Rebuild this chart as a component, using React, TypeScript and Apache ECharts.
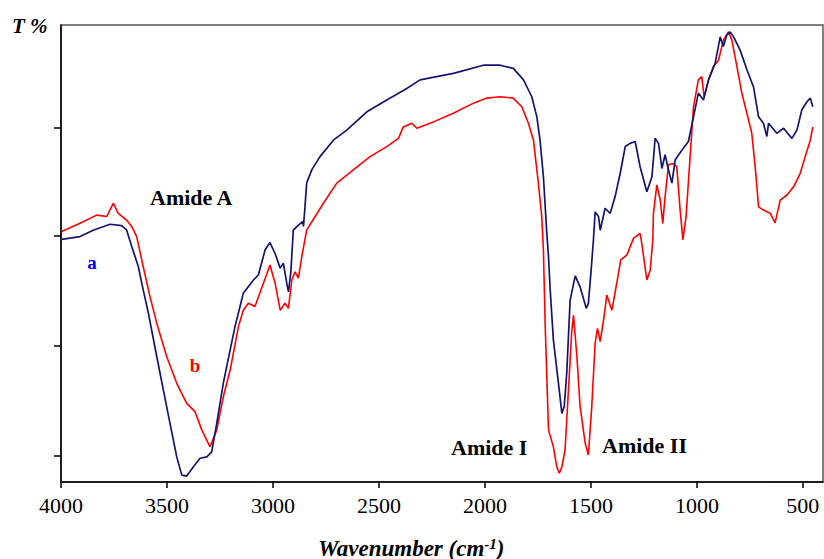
import React, { useEffect, useRef } from "react";
import * as echarts from "echarts";

// Curve a (navy)
const wavenumberA = [3997,3910,3848,3769,3714,3690,3666,3635,3612,3588,3548,3517,3486,3454,3430,3407,3376,3344,3312,3289,3265,3234,3202,3179,3140,3092,3069,3037,3014,2990,2966,2951,2935,2927,2916,2904,2880,2859,2856,2849,2841,2817,2778,2715,2652,2557,2463,2369,2306,2149,2007,1928,1866,1818,1779,1755,1740,1724,1708,1700,1692,1677,1653,1637,1626,1614,1598,1574,1551,1522,1512,1500,1488,1480,1464,1456,1433,1409,1386,1362,1338,1315,1291,1268,1236,1212,1197,1181,1165,1150,1134,1118,1102,1071,1040,1016,993,969,945,914,890,875,859,843,827,796,764,733,709,686,670,662,623,591,552,528,505,481,465,453];
const transA = [53.1,53.7,55.1,56.4,56.1,55.1,51.5,47.1,42.0,37.0,27.4,20.1,12.9,5.5,1.5,1.3,3.3,5.2,5.5,6.6,12.9,21.7,28.9,34.0,41.3,44.2,45.3,50.8,52.4,50.0,46.8,47.9,43.5,41.6,45.7,55.1,56.2,57.0,55.9,60.2,65.4,68.3,71.2,74.8,77.0,81.0,83.6,86.1,88.0,89.4,91.2,91.2,90.5,88.0,84.3,79.9,74.8,66.8,54.4,49.3,42.0,31.1,21.6,15.0,16.5,23.8,39.8,45.1,42.7,38.0,39.1,45.7,53.0,59.1,58.1,55.1,59.9,58.8,62.4,67.5,73.4,74.1,74.5,69.0,63.5,66.8,75.2,74.1,68.6,71.6,68.3,65.4,70.5,72.6,74.5,79.9,85.1,83.6,88.0,91.6,97.4,95.3,97.8,98.5,97.4,94.5,90.2,86.5,79.9,78.5,75.6,78.5,76.3,77.4,75.2,77.0,81.4,83.2,84.0,82.1];

// Curve b (red)
const wavenumberB = [3997,3910,3832,3784,3753,3730,3690,3666,3643,3612,3580,3548,3501,3454,3407,3368,3336,3297,3265,3234,3202,3163,3140,3116,3085,3045,3014,2990,2966,2943,2927,2911,2896,2880,2864,2841,2801,2762,2699,2621,2542,2463,2408,2385,2345,2321,2243,2149,2054,1991,1928,1866,1826,1795,1771,1748,1732,1724,1716,1700,1677,1661,1649,1637,1622,1606,1590,1582,1566,1551,1527,1512,1496,1480,1469,1456,1438,1425,1401,1378,1359,1330,1299,1268,1260,1236,1220,1208,1205,1189,1173,1161,1150,1134,1111,1095,1079,1066,1051,1032,1016,993,977,966,945,922,898,875,851,835,811,788,764,741,725,709,686,654,631,607,575,544,513,489,465,453];
const transB = [54.8,56.6,58.4,58.1,61.0,58.8,57.3,55.9,53.7,47.1,40.5,34.7,27.4,21.6,17.2,15.4,11.4,7.7,11.4,18.7,24.5,34.0,37.6,39.1,38.4,43.5,47.5,43.5,37.6,39.1,38.0,44.2,46.0,44.6,49.3,55.1,58.1,61.0,65.4,68.3,71.2,73.4,75.2,77.7,78.5,77.4,78.8,80.7,82.9,84.0,84.3,84.0,82.1,78.5,74.8,65.4,58.1,50.8,34.7,11.4,7.7,3.3,1.9,3.3,7.0,20.1,33.3,36.5,27.4,16.5,8.5,5.9,16.5,30.4,33.6,30.7,36.2,40.9,37.6,43.5,48.6,49.7,53.3,54.4,52.2,44.2,46.4,53.0,58.8,65.0,61.7,56.6,62.4,69.4,69.7,69.0,59.5,53.0,58.1,71.2,82.1,88.0,88.7,84.3,88.0,90.9,92.3,96.7,98.5,96.7,90.9,85.1,80.7,76.3,69.0,60.2,59.5,58.8,56.7,61.7,62.8,64.6,67.5,71.2,74.8,77.7];

const xTicks = [500, 1000, 1500, 2000, 2500, 3000, 3500, 4000];
const yTicks = [5.7, 29.8, 53.8, 77.5];

const SERIF = "Liberation Serif";

export default function App() {
  const ref = useRef<HTMLDivElement>(null);
  useEffect(() => {
    if (!ref.current) return;
    const chart = echarts.init(ref.current, undefined, { renderer: "svg" });
    const dataA = wavenumberA.map((w, i) => [w, transA[i]]);
    const dataB = wavenumberB.map((w, i) => [w, transB[i]]);
    chart.setOption({
      animation: false,
      backgroundColor: "#ffffff",
      textStyle: { fontFamily: SERIF },
      grid: {
        left: 61,
        top: 25,
        width: 762,
        height: 457,
        show: true,
        borderColor: "#555555",
        borderWidth: 1.5,
        backgroundColor: "transparent",
      },
      xAxis: {
        type: "value",
        inverse: true,
        min: 405,
        max: 4000,
        splitLine: { show: false },
        axisLine: { show: true, onZero: false, lineStyle: { color: "#000", width: 1.5 } },
        axisTick: { show: true, customValues: xTicks, length: 6, lineStyle: { color: "#000", width: 1.5 } },
        axisLabel: {
          customValues: xTicks,
          formatter: (v: number) => `{t|${v}}`,
          color: "#000",
          fontFamily: SERIF,
          fontSize: 22,
          margin: 12,
          rich: {
            t: { fontFamily: SERIF, fontSize: 22, color: "#000" },
          },
        },
      },
      yAxis: {
        type: "value",
        min: 0,
        max: 100,
        splitLine: { show: false },
        axisLine: { show: true, onZero: false, lineStyle: { color: "#000", width: 1.5 } },
        axisTick: { show: true, customValues: yTicks, length: 7, lineStyle: { color: "#000", width: 1.5 } },
        axisLabel: { show: false },
      },
      series: [
        {
          type: "line",
          data: dataA,
          showSymbol: false,
          lineStyle: { color: "#14146e", width: 1.7 },
          z: 3,
        },
        {
          type: "line",
          data: dataB,
          showSymbol: false,
          lineStyle: { color: "#ff0000", width: 1.6 },
          z: 2,
        },
      ],
      graphic: [
        {
          type: "text",
          x: 12,
          y: 26,
          style: { text: "T %", font: `italic bold 21px ${SERIF}`, fill: "#000", textVerticalAlign: "middle" },
        },
        {
          type: "text",
          x: 150,
          y: 197,
          style: { text: "Amide A", font: `bold 22px ${SERIF}`, fill: "#000", textVerticalAlign: "middle" },
        },
        {
          type: "text",
          x: 92,
          y: 262,
          style: { text: "a", font: `bold 19px ${SERIF}`, fill: "#0000ff", textAlign: "center", textVerticalAlign: "middle" },
        },
        {
          type: "text",
          x: 195,
          y: 365,
          style: { text: "b", font: `bold 19px ${SERIF}`, fill: "#ff0000", textAlign: "center", textVerticalAlign: "middle" },
        },
        {
          type: "text",
          x: 451,
          y: 447,
          style: { text: "Amide I", font: `bold 22px ${SERIF}`, fill: "#000", textVerticalAlign: "middle" },
        },
        {
          type: "text",
          x: 602,
          y: 445,
          style: { text: "Amide II", font: `bold 22px ${SERIF}`, fill: "#000", textVerticalAlign: "middle" },
        },
        {
          type: "text",
          x: 318,
          y: 548,
          style: {
            text: "{n|Wavenumber (cm}{s|-1}{n|)}",
            textVerticalAlign: "middle",
            rich: {
              n: { font: `italic bold 23px ${SERIF}`, fill: "#000", lineHeight: 24 } as any,
              s: { font: `italic bold 15px ${SERIF}`, fill: "#000", lineHeight: 24, verticalAlign: "top" } as any,
            },
          },
        },
      ],
    });
    return () => chart.dispose();
  }, []);
  return (
    <div
      ref={ref}
      style={{ position: "absolute", left: 0, top: 0, width: 824, height: 559 }}
    />
  );
}
